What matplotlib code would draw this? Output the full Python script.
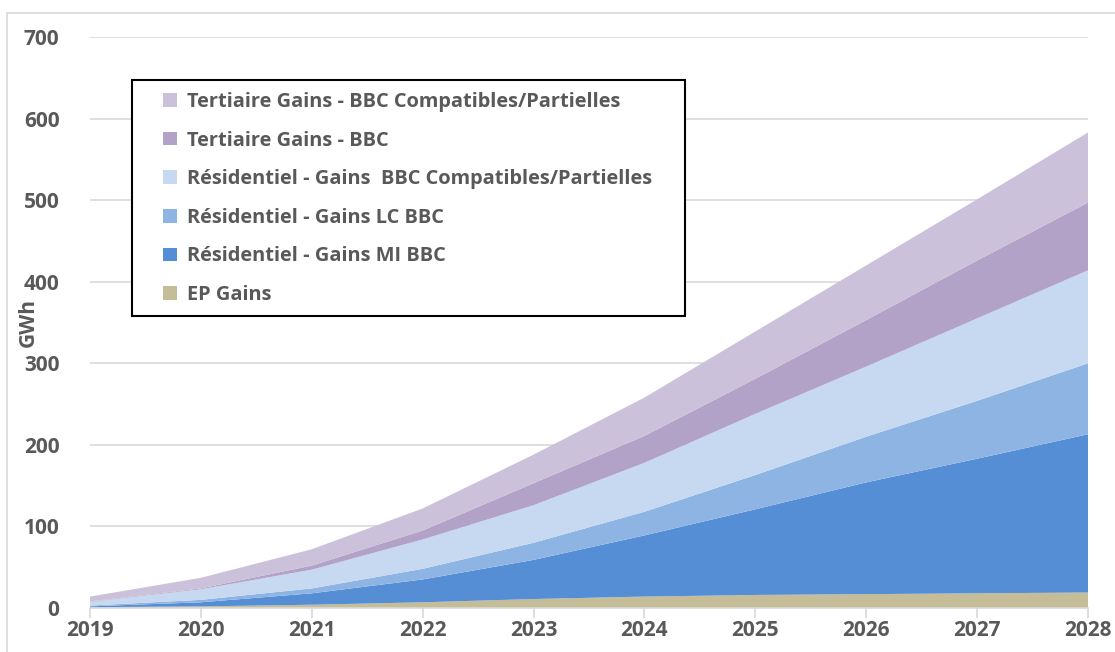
import matplotlib.pyplot as plt
from matplotlib.patches import Rectangle

years = [2019, 2020, 2021, 2022, 2023, 2024, 2025, 2026, 2027, 2028]
ep_gains = [1, 2, 4, 7, 11, 14, 16, 17, 18, 19]
res_mi = [1, 5, 14, 28, 48, 75, 105, 137, 165, 194]
res_lc = [1, 3, 6, 13, 21, 29, 42, 56, 71, 87]
res_compat = [4.5, 13, 23, 36, 46, 60, 75, 86, 101, 114]
tert_bbc = [0.5, 1, 5, 11, 27, 33, 43, 57, 71, 83]
tert_compat = [6, 13, 20, 27, 35, 47, 58, 67, 75, 86]

labels = ["EP Gains",
          "Résidentiel - Gains MI BBC",
          "Résidentiel - Gains LC BBC",
          "Résidentiel - Gains  BBC Compatibles/Partielles",
          "Tertiaire Gains - BBC",
          "Tertiaire Gains - BBC Compatibles/Partielles"]
colors = ["#C4BD97", "#558ED5", "#8EB4E3", "#C6D9F1", "#B3A2C7", "#CCC1DA"]

plt.rcParams['font.family'] = ['Open Sans', 'DejaVu Sans']
grey = "#595959"

W, H = 1115, 652
fig = plt.figure(figsize=(W / 100, H / 100), dpi=100)
# outer chart border
fig.patches.append(Rectangle((7 / W, -0.1), 1.2, (H - 13) / H + 0.1,
                             transform=fig.transFigure, fill=False,
                             edgecolor="#D9D9D9", linewidth=1.2))
ax = fig.add_axes([90 / W, (H - 608) / H, 998 / W, 571 / H])

ax.stackplot(years, ep_gains, res_mi, res_lc, res_compat, tert_bbc, tert_compat,
             labels=labels, colors=colors, linewidth=0)

ax.set_xlim(2019, 2028)
ax.set_ylim(0, 700)
ax.set_xticks(years)
ax.set_yticks(range(0, 701, 100))
ax.grid(axis="y", color="#D9D9D9", linewidth=1.2)
ax.set_axisbelow(True)
for s in ["top", "right", "left"]:
    ax.spines[s].set_visible(False)
ax.spines["bottom"].set_color("#D9D9D9")
ax.spines["bottom"].set_linewidth(1.2)
ax.tick_params(axis="x", colors="#D9D9D9", length=7, width=1.2, pad=2)
ax.tick_params(axis="y", length=0, pad=22)
for t in ax.get_xticklabels() + ax.get_yticklabels():
    t.set_color(grey)
    t.set_fontsize(15)
    t.set_fontweight("bold")
ax.set_ylabel("GWh", fontsize=15, fontweight="bold", color=grey)
ax.yaxis.set_label_coords(-0.051, 0.5)

# legend box drawn separately so the padding matches
fig.patches.append(Rectangle((132 / W, (H - 316) / H), 553 / W, 236 / H,
                             transform=fig.transFigure, fill=True,
                             facecolor="white", edgecolor="black",
                             linewidth=1.5, zorder=5))
h, l = ax.get_legend_handles_labels()
leg = fig.legend(h[::-1], l[::-1], loc="upper left",
                 bbox_to_anchor=(163 / W, (H - 92) / H),
                 borderaxespad=0, frameon=False,
                 prop={"weight": "bold", "size": 14.4},
                 handlelength=0.68, handleheight=0.68, handletextpad=0.5,
                 labelspacing=0.93, borderpad=0)
leg.set_zorder(6)
for t in leg.get_texts():
    t.set_color(grey)

fig.savefig("out.png", dpi=100)
